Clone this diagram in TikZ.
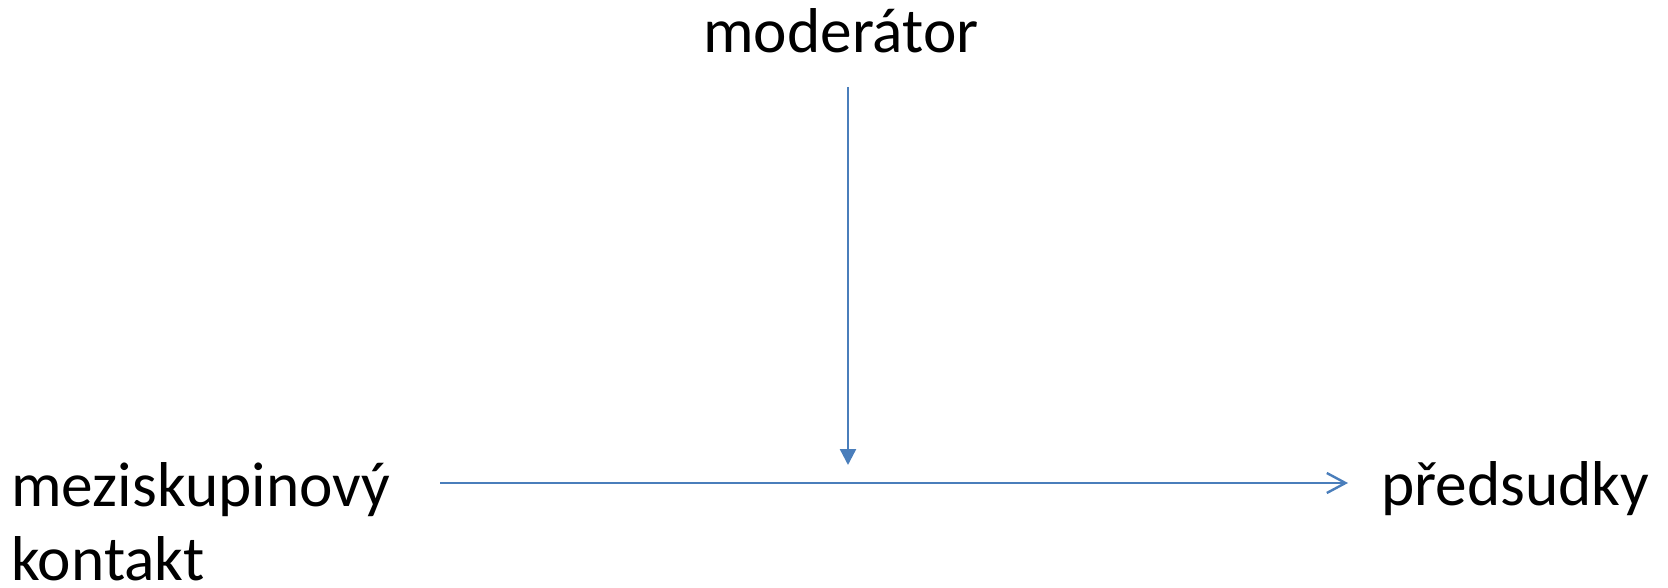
\documentclass[tikz,border=0pt]{standalone}
\usepackage{fontspec}
\setmainfont{Carlito}
\usetikzlibrary{arrows.meta}
\definecolor{arrowblue}{HTML}{4A7EBB}
\begin{document}
\begin{tikzpicture}[x=0.75pt,y=-0.75pt,
  lbl/.style={inner sep=0pt, font=\fontsize{47.5pt}{55.5pt}\selectfont},
  conn/.style={draw=arrowblue, line width=1.8pt}]
\useasboundingbox (0,0) rectangle (1668,588);
\node[lbl, anchor=base] (mod) at (841,53) {moderátor};
\node[lbl, anchor=base west, align=left] (mez) at (11,580) {meziskupinový\\kontakt};
\node[lbl, anchor=base west] (pred) at (1381,505) {předsudky};
\coordinate (vtop) at (848,87);
\coordinate (vend) at (848,465);
\coordinate (hstart) at (440,483);
\coordinate (hend) at (1348,483);
\draw[conn, -{Triangle[length=12pt,width=12pt]}] (vtop) -- (vend);
\draw[conn, -{Straight Barb[length=14pt,width=15pt,line width=1.8pt]}] (hstart) -- (hend);
\end{tikzpicture}
\end{document}
